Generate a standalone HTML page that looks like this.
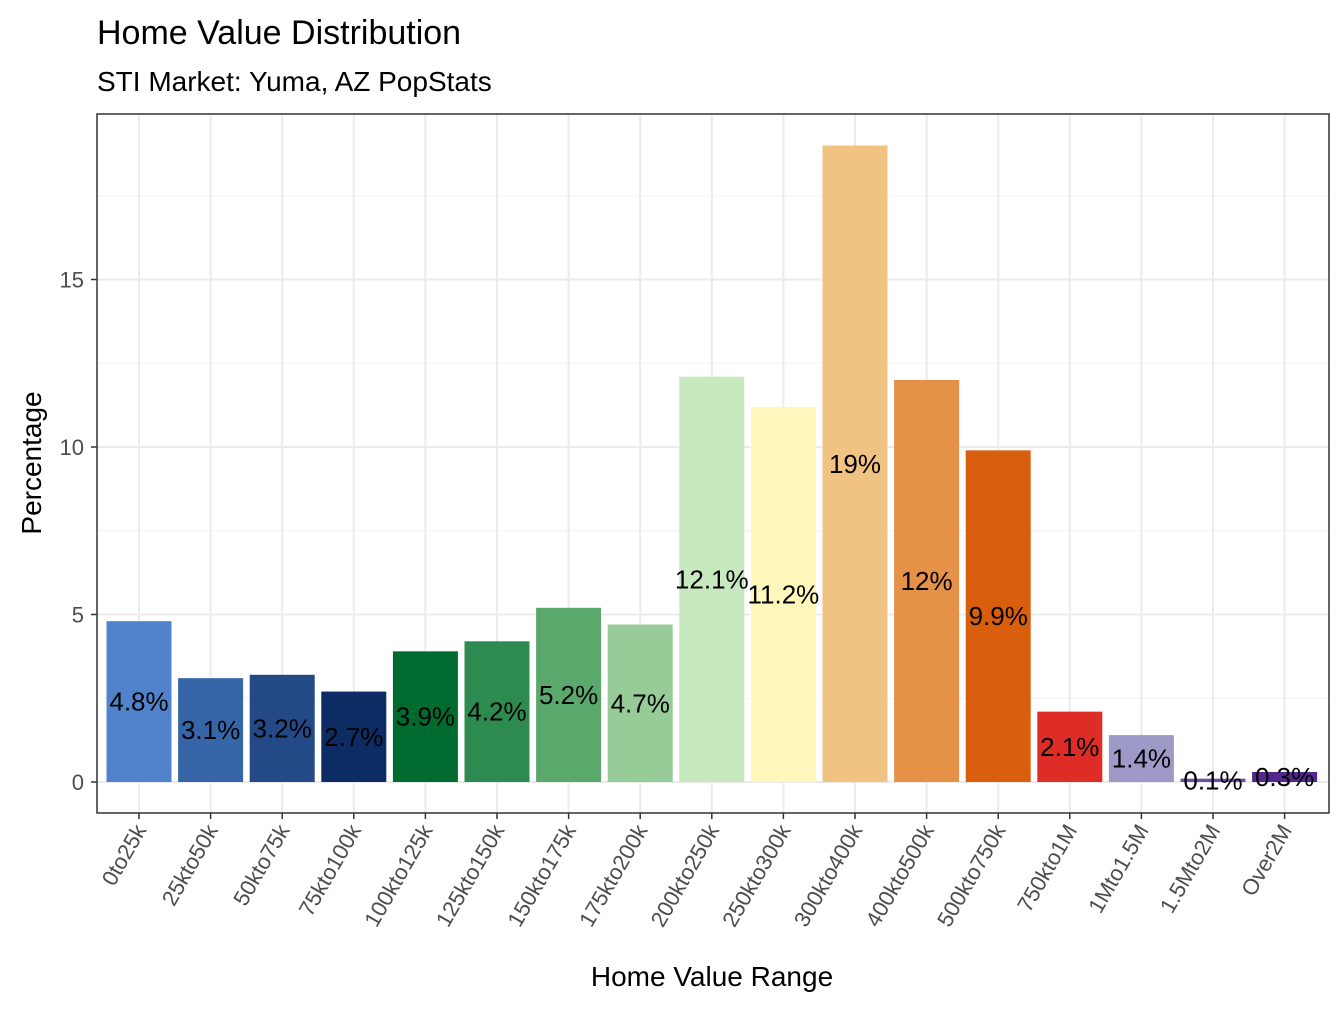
<!DOCTYPE html>
<html><head><meta charset="utf-8"><style>body{margin:0;background:#fff}svg{font-family:"Liberation Sans",Arial,sans-serif}</style></head>
<body>
<svg id="chart" width="1344" height="1008">
<rect width="1344" height="1008" fill="#fff"/>
<text x="97" y="44" font-size="34" fill="#000">Home Value Distribution</text>
<text x="97" y="91" font-size="28" fill="#000">STI Market: Yuma, AZ PopStats</text>
<g id="grid"></g><g id="bars"></g><g id="labels"></g><g id="axes"></g>
<rect x="97" y="114" width="1232" height="699" fill="none" stroke="#333" stroke-width="1.5"/>
<text x="712" y="986" font-size="28" text-anchor="middle">Home Value Range</text>
<text transform="translate(41,463) rotate(-90)" font-size="28" text-anchor="middle">Percentage</text>
</svg>
<script>
const categories=["0to25k","25kto50k","50kto75k","75kto100k","100kto125k","125kto150k","150kto175k","175kto200k","200kto250k","250kto300k","300kto400k","400kto500k","500kto750k","750kto1M","1Mto1.5M","1.5Mto2M","Over2M"];
const values=[4.8,3.1,3.2,2.7,3.9,4.2,5.2,4.7,12.1,11.2,19,12,9.9,2.1,1.4,0.1,0.3];
const valueLabels=["4.8%","3.1%","3.2%","2.7%","3.9%","4.2%","5.2%","4.7%","12.1%","11.2%","19%","12%","9.9%","2.1%","1.4%","0.1%","0.3%"];
const colors=["#5083CC","#3666A8","#234A87","#0D2C63","#006B2E","#2E8B50","#5BA86D","#97CB98","#C7E9C0","#FFF7BC","#F1C383","#E59148","#D95F0E","#DE2D26","#9E9AC8","#6A51A3","#54278F"];
const yTicks=[0,5,10,15];
const yMinor=[2.5,7.5,12.5,17.5];
const NS="http://www.w3.org/2000/svg";
const x=i=>139+i*71.6;
const y=v=>782-v*33.5;
const bw=65;
function mk(t,a,p){const e=document.createElementNS(NS,t);for(const k in a)e.setAttribute(k,a[k]);p.appendChild(e);return e;}
const grid=document.getElementById('grid'),bars=document.getElementById('bars'),labels=document.getElementById('labels'),axes=document.getElementById('axes');
yMinor.forEach(v=>{const l=mk('line',{x1:97,x2:1329,y1:y(v),y2:y(v),stroke:'#F2F2F2','stroke-width':1},grid);});
yTicks.forEach(v=>{const l=mk('line',{x1:97,x2:1329,y1:y(v),y2:y(v),stroke:'#EBEBEB','stroke-width':2},grid);
const t=mk('line',{x1:91,x2:97,y1:y(v),y2:y(v),stroke:'#333','stroke-width':1.5},axes);
const tx=mk('text',{x:84,y:y(v)+8,'font-size':22,fill:'#4D4D4D','text-anchor':'end'},axes);tx.textContent=v;});
categories.forEach((c,i)=>{const l=mk('line',{x1:x(i),x2:x(i),y1:114,y2:813,stroke:'#EBEBEB','stroke-width':2},grid);
const r=mk('rect',{x:x(i)-bw/2,y:y(values[i]),width:bw,height:values[i]*33.5,fill:colors[i]},bars);
const t=mk('text',{x:x(i),y:y(values[i]/2)+9,'font-size':26,'text-anchor':'middle',fill:'#000'},labels);t.textContent=valueLabels[i];
const tk=mk('line',{x1:x(i),x2:x(i),y1:813,y2:819,stroke:'#333','stroke-width':1.5},axes);
const tx=mk('text',{transform:`translate(${x(i)+8},${830}) rotate(-60)`,'font-size':22,fill:'#4D4D4D','text-anchor':'end'},axes);tx.textContent=c;});
</script>
</body></html>
